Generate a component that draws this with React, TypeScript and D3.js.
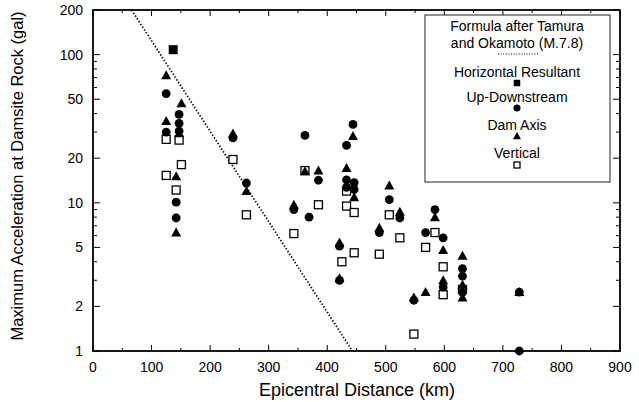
import React from "react";
import * as d3 from "d3";

const W = 639;
const H = 402;

// axis ticks
const xTicks = [0, 100, 200, 300, 400, 500, 600, 700, 800, 900];
const yTicks = [1, 2, 5, 10, 20, 50, 100, 200];

// Tamura & Okamoto formula (M 7.8), straight on the semi-log plot
const formulaDist = [66, 443];
const formulaAcc = [200, 1];

// Horizontal Resultant
const hrDist = [137];
const hrAcc = [108];

// Up-Downstream
const udDist = [125, 125, 147, 147, 147, 142, 142, 239, 262, 362, 385, 343, 369, 444, 433, 433, 446, 433, 446, 421, 421, 506, 524, 489, 584, 568, 598, 598, 548, 631, 631, 631, 728, 728];
const udAcc = [54.6, 30, 39.5, 34.4, 30.5, 10.1, 7.9, 27.4, 13.6, 28.5, 14.2, 9.0, 8.0, 33.8, 24.4, 14.3, 13.7, 12.7, 12.3, 5.1, 3.0, 10.5, 7.9, 6.3, 9.0, 6.3, 5.8, 2.7, 2.2, 3.6, 3.2, 2.5, 2.5, 1.0];

// Dam Axis
const daDist = [125, 125, 151, 147, 142, 142, 239, 262, 362, 385, 343, 444, 433, 446, 421, 421, 506, 524, 489, 584, 598, 598, 568, 548, 631, 631, 631, 728];
const daAcc = [72.5, 35.6, 46.9, 29.5, 15.1, 6.3, 29.4, 12.0, 16.3, 16.5, 9.7, 28.2, 17.2, 10.9, 5.4, 3.1, 13.1, 8.7, 6.8, 8.0, 4.8, 3.0, 2.5, 2.3, 4.4, 2.8, 2.3, 2.5];

// Vertical
const vDist = [125, 147, 151, 125, 142, 239, 262, 362, 385, 343, 433, 433, 446, 446, 425, 506, 524, 489, 584, 568, 598, 598, 548, 631];
const vAcc = [26.8, 26.5, 18.1, 15.3, 12.2, 19.6, 8.3, 16.5, 9.7, 6.2, 12.0, 9.5, 8.6, 4.6, 4.0, 8.3, 5.8, 4.5, 6.3, 5.0, 3.7, 2.4, 1.3, 2.6];

const FONT = "'Liberation Sans', Arial, Helvetica, sans-serif";

const x = d3.scaleLinear().domain([0, 900]).range([93, 620]);
const y = d3.scaleLog().domain([1, 200]).range([351, 10]);

const triPath = (cx: number, cy: number, s = 5) =>
  `M${cx},${cy - s}L${cx + s},${cy + s * 0.8}L${cx - s},${cy + s * 0.8}Z`;

function Square({ cx, cy, s, filled }: { cx: number; cy: number; s: number; filled: boolean }) {
  return filled ? (
    <rect x={cx - s / 2} y={cy - s / 2} width={s} height={s} fill="#000" />
  ) : (
    <rect x={cx - s / 2} y={cy - s / 2} width={s} height={s} fill="#fff" stroke="#000" strokeWidth={1.3} />
  );
}

export default function App() {
  const [x0, x1] = x.range();
  const [y0, y1] = y.range();
  const xMinor = d3.range(50, 900, 100);
  const yMinor = [3, 4, 6, 7, 8, 9, 30, 40, 60, 70, 80, 90];

  const line = d3
    .line<number>()
    .x((d, i) => x(formulaDist[i]))
    .y((d) => y(d));

  return (
    <svg width={W} height={H} style={{ position: "absolute", left: 0, top: 0, background: "#fff" }} fontFamily={FONT}>
      <defs>
        <clipPath id="plot">
          <rect x={x0} y={y1} width={x1 - x0} height={y0 - y1} />
        </clipPath>
      </defs>

      {/* ticks, inward on all four sides */}
      <g stroke="#000" strokeWidth={1}>
        {xTicks.map((t) => (
          <g key={"xt" + t}>
            <line x1={x(t)} x2={x(t)} y1={y0} y2={y0 - 6} />
            <line x1={x(t)} x2={x(t)} y1={y1} y2={y1 + 6} />
          </g>
        ))}
        {xMinor.map((t) => (
          <g key={"xm" + t}>
            <line x1={x(t)} x2={x(t)} y1={y0} y2={y0 - 3} />
            <line x1={x(t)} x2={x(t)} y1={y1} y2={y1 + 3} />
          </g>
        ))}
        {yTicks.map((t) => (
          <g key={"yt" + t}>
            <line x1={x0} x2={x0 + 7} y1={y(t)} y2={y(t)} />
            <line x1={x1} x2={x1 - 7} y1={y(t)} y2={y(t)} />
          </g>
        ))}
        {yMinor.map((t) => (
          <g key={"ym" + t}>
            <line x1={x0} x2={x0 + 4} y1={y(t)} y2={y(t)} />
            <line x1={x1} x2={x1 - 4} y1={y(t)} y2={y(t)} />
          </g>
        ))}
      </g>

      {/* frame */}
      <rect x={x0} y={y1} width={x1 - x0} height={y0 - y1} fill="none" stroke="#000" strokeWidth={1.8} />

      {/* tick labels */}
      <g fontSize={14} fill="#000">
        {xTicks.map((t) => (
          <text key={"xl" + t} x={x(t)} y={372} textAnchor="middle">
            {t}
          </text>
        ))}
        {yTicks.map((t) => (
          <text key={"yl" + t} x={83} y={y(t) + 5} textAnchor="end">
            {t}
          </text>
        ))}
      </g>

      {/* axis titles */}
      <text x={357} y={396} textAnchor="middle" fontSize={18}>
        Epicentral Distance (km)
      </text>
      <text transform="translate(23,176) rotate(-90)" textAnchor="middle" fontSize={16.5}>
        Maximum Acceleration at Damsite Rock (gal)
      </text>

      {/* formula line */}
      <g clipPath="url(#plot)">
        <path d={line(formulaAcc) || ""} fill="none" stroke="#000" strokeWidth={1.7} strokeDasharray="1.4,1.9" />
      </g>

      {/* data */}
      {vDist.map((d, i) => (
        <Square key={"v" + i} cx={x(d)} cy={y(vAcc[i])} s={8} filled={false} />
      ))}
      {udDist.map((d, i) => (
        <circle key={"u" + i} cx={x(d)} cy={y(udAcc[i])} r={4.4} fill="#000" />
      ))}
      {daDist.map((d, i) => (
        <path key={"d" + i} d={triPath(x(d), y(daAcc[i]))} fill="#000" />
      ))}
      {hrDist.map((d, i) => (
        <Square key={"h" + i} cx={x(d)} cy={y(hrAcc[i])} s={9} filled />
      ))}

      {/* legend */}
      <g>
        <rect x={425} y={15} width={185} height={167} fill="#fff" stroke="#222" strokeWidth={1} />
        <g fontSize={14} textAnchor="middle" fill="#000">
          <text x={517} y={31}>Formula after Tamura</text>
          <text x={517} y={48}>and Okamoto (M.7.8)</text>
          <text x={517} y={77}>Horizontal Resultant</text>
          <text x={517} y={102}>Up-Downstream</text>
          <text x={517} y={130}>Dam Axis</text>
          <text x={517} y={158}>Vertical</text>
        </g>
        <line x1={498} x2={538} y1={54} y2={54} stroke="#000" strokeWidth={1.2} strokeDasharray="1,1.6" />
        <Square cx={517} cy={83} s={6.5} filled />
        <circle cx={517} cy={108} r={3.5} fill="#000" />
        <path d={triPath(517, 136, 4)} fill="#000" />
        <Square cx={517} cy={165} s={6} filled={false} />
      </g>
    </svg>
  );
}
